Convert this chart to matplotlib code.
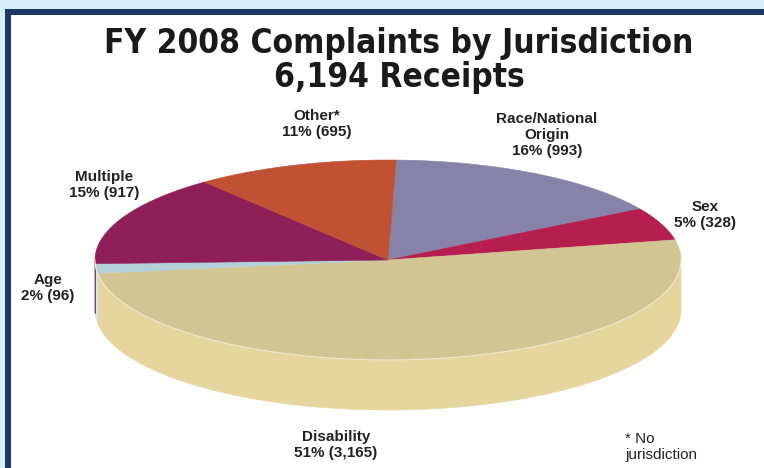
import numpy as np
import matplotlib
matplotlib.use("Agg")
import matplotlib.pyplot as plt
from matplotlib.patches import Rectangle, Polygon

# Complaint receipts by jurisdiction, FY 2008
categories = ["Race/National\nOrigin", "Sex", "Disability", "Age", "Multiple", "Other*"]
counts = [993, 328, 3165, 96, 917, 695]
title_lines = ["FY 2008 Complaints by Jurisdiction", "6,194 Receipts"]
footnote = "* No\njurisdiction"

# Styling
top_colors = ["#8682a8", "#b51e4e", "#d3c592", "#b4d0d9", "#8f1f58", "#c05132"]
side_colors = ["#6f6b92", "#9a1a42", "#e6d59c", "#cde8f3", "#7a1a4b", "#a8452a"]
label_pos = [(547, 135), (705, 215), (336, 445), (48, 288), (104, 185), (317, 124)]

W, H = 764, 468
fig = plt.figure(figsize=(W / 100, H / 100), dpi=100)
fig.patch.set_facecolor("#d4eefa")
ax = fig.add_axes([0, 0, 1, 1])
ax.set_xlim(0, W)
ax.set_ylim(H, 0)
ax.axis("off")

# Framed panel
ax.add_patch(Rectangle((5, 9), W, H, facecolor="#1d3767", edgecolor="none", zorder=0))
ax.add_patch(Rectangle((11, 15), W, H, facecolor="white", edgecolor="none", zorder=0))

# Title
for txt, ty in zip(title_lines, (43, 78)):
    ax.text(W / 2 + 17, ty, txt, ha="center", va="center", fontsize=24,
            fontweight="bold", fontstretch="condensed", color="#1a1a1a",
            family="DejaVu Sans")

# 3D pie geometry
cx, cy, rx, ry, depth = 388, 260, 293, 100, 50
start = 88.4
vals = np.array(counts, dtype=float)
sweep = vals / vals.sum() * 360.0
ends = start - np.cumsum(sweep)
begins = ends + sweep  # clockwise: each slice spans [end, begin]


def arc(t1, t2, dy=0.0, n=200):
    t = np.radians(np.linspace(t1, t2, n))
    return np.column_stack([cx + rx * np.cos(t), cy - ry * np.sin(t) + dy])


# Side walls of the front half (angles 180..360)
for lo, hi, sc in zip(ends, begins, side_colors):
    for shift in (-360, 0, 360):
        a = max(lo + shift, 180)
        b = min(hi + shift, 360)
        if b > a:
            top = arc(a, b)
            bot = arc(b, a, dy=depth)
            ax.add_patch(Polygon(np.vstack([top, bot]), closed=True, facecolor=sc,
                                 edgecolor=sc, linewidth=0.4, zorder=2))

# Top face
for lo, hi, tc in zip(ends, begins, top_colors):
    pts = np.vstack([[cx, cy], arc(lo, hi)])
    ax.add_patch(Polygon(pts, closed=True, facecolor=tc, edgecolor=tc,
                         linewidth=0.4, zorder=3))

# Faint rim highlight along the front edge of the top face
rim = arc(180, 360)
ax.plot(rim[:, 0], rim[:, 1], color="#f3ead0", linewidth=0.8, zorder=4)

# Labels
total = vals.sum()
for name, c, (lx, ly) in zip(categories, counts, label_pos):
    txt = f"{name}\n{round(c / total * 100):.0f}% ({c:,})"
    ax.text(lx, ly, txt, ha="center", va="center", fontsize=11, fontweight="bold",
            color="#222222", family="Liberation Sans", linespacing=1.15)

ax.text(625, 447, footnote, ha="left", va="center", fontsize=11, color="#222222",
        family="Liberation Sans", linespacing=1.15)

fig.savefig("out.png", dpi=100, facecolor=fig.get_facecolor())
